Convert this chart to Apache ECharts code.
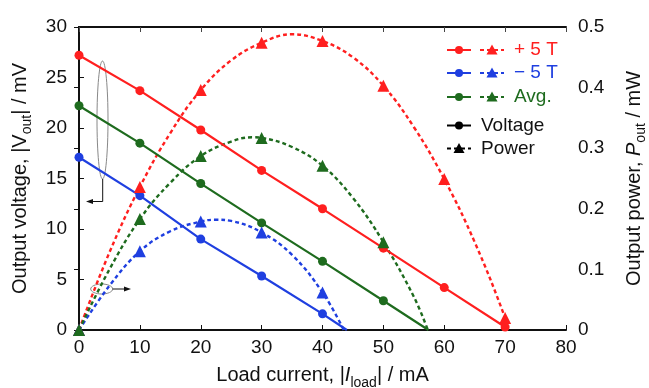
<!DOCTYPE html>
<html>
<head>
<meta charset="utf-8">
<script src="https://cdn.jsdelivr.net/npm/echarts@6/dist/echarts.min.js"></script>
<style>
  html, body { margin: 0; padding: 0; background: #fff; overflow: hidden; }
  #chart { width: 649px; height: 388px; }
</style>
</head>
<body>
<div id="chart"></div>
<script>
// load current (mA) where the markers sit
var currentPos = [0, 10, 20, 30, 40, 50, 60, 70];
var currentNeg = [0, 10, 20, 30, 40];
var currentAvg = [0, 10, 20, 30, 40, 50];

// output voltage, mV
var voltPos = [27.2, 23.7, 19.8, 15.8, 12.0, 8.1, 4.2, 0.3];
var voltNeg = [17.1, 13.3, 9.0, 5.35, 1.6];
var voltAvg = [22.2, 18.5, 14.5, 10.6, 6.8, 2.9];
// where the voltage lines reach zero (no marker)
var voltNegEnd = [44.0, 0];
var voltAvgEnd = [57.4, 0];

// output power, mW (markers)
var powPos = [0, 0.236, 0.396, 0.474, 0.477, 0.403, 0.249, 0.02];
var powNeg = [0, 0.130, 0.179, 0.161, 0.062];
var powAvg = [0, 0.183, 0.287, 0.317, 0.271, 0.145];

// dashed power curves
var curvePosX = [0, 5, 10, 15, 20, 25, 30, 35, 40, 45, 50, 55, 60, 65, 70, 70.4];
var curvePosY = [0, 0.128, 0.236, 0.325, 0.396, 0.445, 0.474, 0.488, 0.477, 0.450, 0.403, 0.335, 0.249, 0.145, 0.02, 0];
var curveAvgX = [0, 5, 10, 15, 20, 25, 28.5, 30, 35, 40, 45, 50, 55, 57.3];
var curveAvgY = [0, 0.100, 0.183, 0.243, 0.287, 0.311, 0.318, 0.317, 0.302, 0.271, 0.218, 0.145, 0.055, 0];
var curveNegX = [0, 5, 10, 15, 20, 22.5, 25, 30, 35, 40, 43.5];
var curveNegY = [0, 0.073, 0.130, 0.163, 0.179, 0.182, 0.180, 0.161, 0.124, 0.062, 0];

var colors = { pos: '#ff1f1f', neg: '#1f3fe0', avg: '#1e6b1e' };
var font = "'Liberation Sans', Arial, sans-serif";
var axisColor = '#111';

function pairs(xs, ys) {
  var out = [];
  for (var i = 0; i < xs.length; i++) out.push([xs[i], ys[i]]);
  return out;
}

function voltSeries(name, xs, ys, end, color) {
  var data = pairs(xs, ys);
  if (end) data.push({ value: end, symbol: 'none' });
  return {
    name: name, type: 'line', xAxisIndex: 0, yAxisIndex: 0,
    data: data, symbol: 'circle', symbolSize: 9, showAllSymbol: true,
    lineStyle: { color: color, width: 2.2 }, itemStyle: { color: color },
    z: 3, silent: true
  };
}

function curveSeries(name, xs, ys, color) {
  return {
    name: name, type: 'line', xAxisIndex: 0, yAxisIndex: 1,
    data: pairs(xs, ys), smooth: 0.4, symbol: 'none',
    lineStyle: { color: color, width: 2.4, type: [4, 3] }, z: 2, silent: true
  };
}

function triSeries(name, xs, ys, color) {
  return {
    name: name, type: 'scatter', xAxisIndex: 0, yAxisIndex: 1,
    data: pairs(xs, ys), symbol: 'triangle', symbolSize: 12,
    itemStyle: { color: color, opacity: 1 }, z: 4, silent: true
  };
}

var chart = echarts.init(document.getElementById('chart'));

var tickLabel = { color: '#111', fontSize: 19, fontFamily: font };
var nameRich = {
  s: { fontSize: 14, fontFamily: font, color: '#111', lineHeight: 28, verticalAlign: 'bottom' },
  i: { fontSize: 20, fontFamily: font, color: '#111', fontStyle: 'italic', lineHeight: 28 }
};

// legend rows + annotation ellipses, drawn by hand
var legendRows = [
  { y: 50, color: colors.pos, text: '+ 5 T' },
  { y: 73, color: colors.neg, text: '\u2212 5 T' },
  { y: 97, color: colors.avg, text: 'Avg.' }
];
function tri(x, y, color) {
  return { type: 'polygon', shape: { points: [[x - 5.5, y + 4.5], [x + 5.5, y + 4.5], [x, y - 5.5]] }, style: { fill: color } };
}
var graphics = [];
legendRows.forEach(function (r) {
  graphics.push({ type: 'line', shape: { x1: 447, y1: r.y, x2: 471, y2: r.y }, style: { stroke: r.color, lineWidth: 2 } });
  graphics.push({ type: 'circle', shape: { cx: 459, cy: r.y, r: 4 }, style: { fill: r.color } });
  graphics.push({ type: 'line', shape: { x1: 480, y1: r.y, x2: 504, y2: r.y }, style: { stroke: r.color, lineWidth: 2, lineDash: [4, 3] } });
  graphics.push(tri(492, r.y, r.color));
  graphics.push({ type: 'text', x: 514, y: r.y, style: { text: r.text, fill: r.color, font: '19px ' + font, verticalAlign: 'middle' } });
});
graphics.push({ type: 'line', shape: { x1: 447, y1: 125.5, x2: 471, y2: 125.5 }, style: { stroke: '#000', lineWidth: 2 } });
graphics.push({ type: 'circle', shape: { cx: 459, cy: 125.5, r: 4 }, style: { fill: '#000' } });
graphics.push({ type: 'text', x: 481, y: 125.5, style: { text: 'Voltage', fill: '#111', font: '19px ' + font, verticalAlign: 'middle' } });
graphics.push({ type: 'line', shape: { x1: 447, y1: 148.5, x2: 471, y2: 148.5 }, style: { stroke: '#000', lineWidth: 2, lineDash: [4, 3] } });
graphics.push(tri(459, 148.5, '#000'));
graphics.push({ type: 'text', x: 481, y: 148.5, style: { text: 'Power', fill: '#111', font: '19px ' + font, verticalAlign: 'middle' } });

// ellipse marking the voltage lines, arrow to the left axis
graphics.push({ type: 'ellipse', shape: { cx: 102.5, cy: 120, rx: 5.5, ry: 59 }, style: { fill: 'none', stroke: '#888', lineWidth: 1 } });
graphics.push({ type: 'polyline', shape: { points: [[102.7, 179], [102.7, 201.5], [91, 201.5]] }, style: { stroke: '#111', lineWidth: 1, fill: 'none' } });
graphics.push({ type: 'polygon', shape: { points: [[86, 201.5], [93, 199], [93, 204]] }, style: { fill: '#111' } });
// ellipse marking the power curves, arrow to the right axis
graphics.push({ type: 'ellipse', shape: { cx: 101.7, cy: 289, rx: 11, ry: 5 }, style: { fill: 'none', stroke: '#888', lineWidth: 1 } });
graphics.push({ type: 'line', shape: { x1: 112.7, y1: 289, x2: 125, y2: 289 }, style: { stroke: '#111', lineWidth: 1 } });
graphics.push({ type: 'polygon', shape: { points: [[131, 289], [124, 286.5], [124, 291.5]] }, style: { fill: '#111' } });

var option = {
  animation: false,
  backgroundColor: '#fff',
  textStyle: { fontFamily: font },
  grid: { left: 79, right: 83, top: 27, bottom: 58, containLabel: false, outerBoundsMode: 'none' },
  xAxis: [
    {
      type: 'value', position: 'bottom', min: 0, max: 80, interval: 10,
      axisLine: { lineStyle: { color: axisColor, width: 2 } },
      axisTick: { inside: true, length: 5, lineStyle: { color: axisColor } },
      axisLabel: Object.assign({ margin: 8 }, tickLabel),
      splitLine: { show: false },
      name: 'Load current, |{i|I}{s|load}| / mA',
      nameLocation: 'middle', nameGap: 27,
      nameTextStyle: { fontSize: 20, color: '#111', fontFamily: font, lineHeight: 28, rich: nameRich }
    },
    {
      type: 'value', position: 'top', min: 0, max: 80, interval: 10,
      axisLine: { onZero: false, lineStyle: { color: axisColor, width: 2 } },
      axisTick: { inside: true, length: 5, lineStyle: { color: '#444' } },
      axisLabel: { show: false }, splitLine: { show: false }
    }
  ],
  yAxis: [
    {
      type: 'value', position: 'left', min: 0, max: 30, interval: 5,
      axisLine: { show: true, lineStyle: { color: axisColor, width: 2 } },
      axisTick: { show: true, inside: true, length: 5, lineStyle: { color: axisColor } },
      axisLabel: Object.assign({ margin: 12 }, tickLabel),
      splitLine: { show: false },
      name: 'Output voltage, |V{s|out}| / mV',
      nameLocation: 'middle', nameGap: 45,
      nameTextStyle: { fontSize: 20, color: '#111', fontFamily: font, lineHeight: 28, rich: nameRich }
    },
    {
      type: 'value', position: 'right', min: 0, max: 0.5, interval: 0.1,
      axisLine: { show: true, lineStyle: { color: axisColor, width: 2 } },
      axisTick: { show: true, inside: true, length: 5, lineStyle: { color: axisColor } },
      axisLabel: Object.assign({ margin: 12 }, tickLabel),
      splitLine: { show: false },
      name: 'Output power, {i|P}{s|out} / mW',
      nameLocation: 'middle', nameGap: 54,
      nameTextStyle: { fontSize: 20, color: '#111', fontFamily: font, lineHeight: 28, rich: nameRich }
    }
  ],
  graphic: graphics,
  series: [
    curveSeries('+5T P curve', curvePosX, curvePosY, colors.pos),
    curveSeries('-5T P curve', curveNegX, curveNegY, colors.neg),
    curveSeries('Avg P curve', curveAvgX, curveAvgY, colors.avg),
    voltSeries('+5T V', currentPos, voltPos, null, colors.pos),
    voltSeries('-5T V', currentNeg, voltNeg, voltNegEnd, colors.neg),
    voltSeries('Avg V', currentAvg, voltAvg, voltAvgEnd, colors.avg),
    triSeries('+5T P', currentPos, powPos, colors.pos),
    triSeries('-5T P', currentNeg, powNeg, colors.neg),
    triSeries('Avg P', currentAvg, powAvg, colors.avg)
  ]
};

chart.setOption(option);
</script>
</body>
</html>
